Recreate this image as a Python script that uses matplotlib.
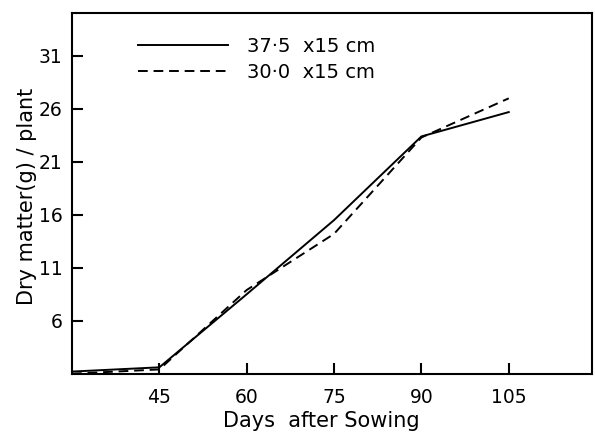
import matplotlib
matplotlib.use("Agg")
import matplotlib.pyplot as plt

# --- data ---
days = [30, 45, 60, 75, 90, 105]
dm_375 = [1.2, 1.6, 8.5, 15.5, 23.4, 25.7]   # 37.5 x 15 cm (solid)
dm_300 = [1.0, 1.4, 8.9, 14.2, 23.3, 27.0]   # 30.0 x 15 cm (dashed)
x_ticks = [45, 60, 75, 90, 105]
y_ticks = [6, 11, 16, 21, 26, 31]
labels = ["37\u00b75  x15 cm", "30\u00b70  x15 cm"]

plt.rcParams['font.family'] = ['DejaVu Sans']

fig = plt.figure(figsize=(5.95, 4.32), dpi=100)
ax = fig.add_axes([0.121, 0.135, 0.874, 0.836])

ax.plot(days, dm_375, color="black", linewidth=1.4, label=labels[0])
ax.plot(days, dm_300, color="black", linewidth=1.4, dashes=(5, 3), label=labels[1])

ax.set_xlim(30, 119.3)
ax.set_ylim(1, 35.1)
ax.set_xticks(x_ticks)
ax.set_yticks(y_ticks)
ax.tick_params(direction="in", length=8, width=1.5, labelsize=13.5)
ax.tick_params(axis="x", pad=10)
ax.tick_params(axis="y", pad=7)
for s in ax.spines.values():
    s.set_linewidth(1.5)

ax.set_xlabel("Days  after Sowing", fontsize=15)
ax.set_ylabel("Dry matter(g) / plant", fontsize=15)
ax.xaxis.set_label_coords(0.479, -0.103)
ax.yaxis.set_label_coords(-0.068, 0.49)

ax.legend(loc="upper left", bbox_to_anchor=(0.094, 0.98), frameon=False,
          fontsize=14, handlelength=4.6, handletextpad=1.0, labelspacing=0.35)

plt.savefig("out.png", dpi=100)
